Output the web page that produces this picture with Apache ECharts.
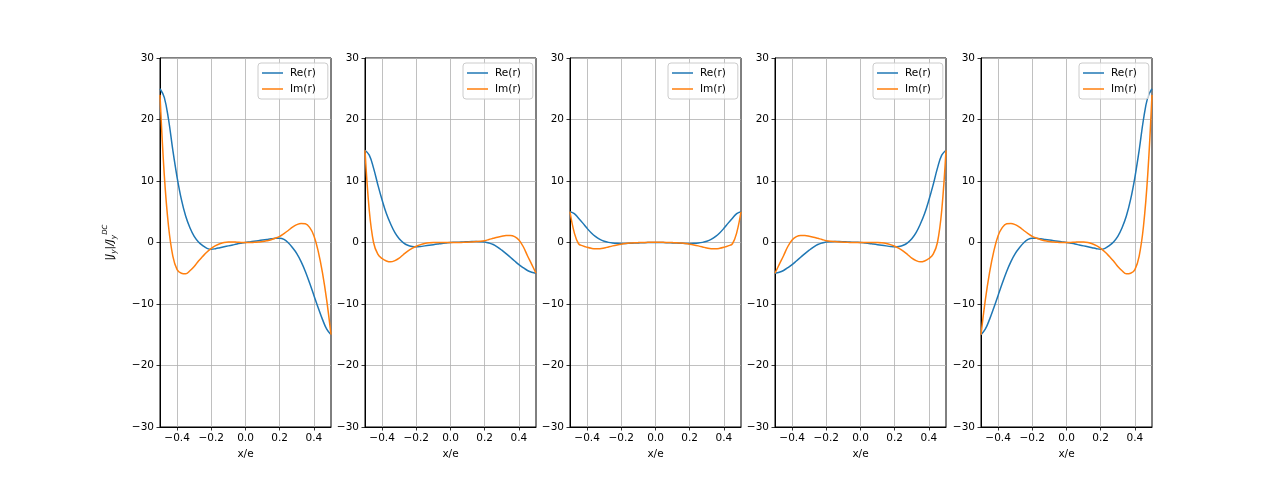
<!DOCTYPE html>
<html>
<head>
<meta charset="utf-8">
<script src="https://cdn.jsdelivr.net/npm/echarts@6/dist/echarts.min.js"></script>
<style>html,body{margin:0;padding:0;background:#fff}#c{width:1280px;height:480px}</style>
</head>
<body>
<div id="c"></div>
<script>
const xs = [-0.5,-0.475,-0.45,-0.425,-0.4,-0.375,-0.35,-0.325,-0.3,-0.275,-0.25,-0.225,-0.2,-0.175,-0.15,-0.125,-0.1,-0.075,-0.05,-0.025,0,0.025,0.05,0.075,0.1,0.125,0.15,0.175,0.2,0.225,0.25,0.275,0.3,0.325,0.35,0.375,0.4,0.425,0.45,0.475,0.5];

const re1 = [25,23.6,20.0,15.0,10.6,7.0,4.3,2.4,1.0,0.1,-0.5,-0.95,-1.1,-1.0,-0.85,-0.7,-0.55,-0.4,-0.25,-0.12,0,0.1,0.2,0.3,0.4,0.5,0.6,0.68,0.7,0.5,-0.05,-0.85,-1.8,-3.1,-4.7,-6.6,-8.6,-10.6,-12.5,-14.1,-15];
const im1 = [24,11.0,2.6,-2.2,-4.4,-5.0,-5.1,-4.6,-3.9,-3.0,-2.25,-1.55,-0.95,-0.5,-0.2,0.0,0.08,0.08,0.05,0.02,0,0.0,0.03,0.08,0.15,0.28,0.45,0.7,1.0,1.45,1.95,2.5,2.9,3.1,3.05,2.45,1.1,-1.4,-4.9,-9.4,-15];

const re2 = [15,14.2,12.1,9.4,6.9,4.7,3.0,1.6,0.6,-0.05,-0.45,-0.65,-0.7,-0.65,-0.55,-0.45,-0.35,-0.25,-0.15,-0.07,0,0.03,0.06,0.1,0.13,0.15,0.15,0.13,0.08,-0.08,-0.33,-0.75,-1.25,-1.8,-2.4,-3.0,-3.6,-4.1,-4.55,-4.85,-5.0];
const im2 = [15,5.2,0.0,-1.9,-2.6,-3.0,-3.15,-2.95,-2.55,-1.95,-1.4,-0.95,-0.6,-0.35,-0.17,-0.06,0.0,0.01,0.01,0.0,0,0.0,0.01,0.03,0.06,0.1,0.15,0.2,0.3,0.48,0.68,0.87,1.02,1.13,1.15,0.95,0.4,-0.65,-2.15,-3.55,-5.0];

const re3 = [5.0,4.7,3.95,3.15,2.3,1.55,0.95,0.5,0.2,0.02,-0.08,-0.13,-0.15,-0.15,-0.13,-0.1,-0.07,-0.04,-0.02,-0.01,0,-0.01,-0.02,-0.04,-0.07,-0.1,-0.13,-0.15,-0.15,-0.13,-0.08,0.02,0.2,0.5,0.95,1.55,2.3,3.15,3.95,4.7,5.0];
const im3 = [5.0,1.6,-0.2,-0.55,-0.78,-0.95,-1.03,-1.02,-0.9,-0.72,-0.55,-0.4,-0.27,-0.17,-0.1,-0.05,-0.02,0.0,0.02,0.03,0.03,0.03,0.02,0.0,-0.02,-0.05,-0.1,-0.17,-0.27,-0.4,-0.55,-0.72,-0.9,-1.02,-1.03,-0.95,-0.78,-0.55,-0.2,1.6,5.0];

const re4 = [-5.0,-4.85,-4.55,-4.1,-3.6,-3.0,-2.4,-1.8,-1.25,-0.75,-0.33,-0.08,0.08,0.13,0.15,0.15,0.13,0.1,0.06,0.03,0,-0.07,-0.15,-0.25,-0.35,-0.45,-0.55,-0.65,-0.7,-0.65,-0.45,-0.05,0.6,1.6,3.0,4.7,6.9,9.4,12.1,14.2,15];
const im4 = [-5.0,-3.55,-2.15,-0.65,0.4,0.95,1.15,1.13,1.02,0.87,0.68,0.48,0.3,0.2,0.15,0.1,0.06,0.03,0.01,0.0,0,0.0,0.01,0.01,0.0,-0.06,-0.17,-0.35,-0.6,-0.95,-1.4,-1.95,-2.55,-2.95,-3.15,-3.0,-2.6,-1.9,0.0,5.2,15];

const re5 = [-15,-14.1,-12.5,-10.6,-8.6,-6.6,-4.7,-3.1,-1.8,-0.85,-0.05,0.5,0.7,0.68,0.6,0.5,0.4,0.3,0.2,0.1,0,-0.12,-0.25,-0.4,-0.55,-0.7,-0.85,-1.0,-1.1,-0.95,-0.5,0.1,1.0,2.4,4.3,7.0,10.6,15.0,20.0,23.6,25];
const im5 = [-15,-9.4,-4.9,-1.4,1.1,2.45,3.05,3.1,2.9,2.5,1.95,1.45,1.0,0.7,0.45,0.28,0.15,0.08,0.03,0.0,0,0.02,0.05,0.08,0.08,0.0,-0.2,-0.5,-0.95,-1.55,-2.25,-3.0,-3.9,-4.6,-5.1,-5.0,-4.4,-2.2,2.6,11.0,24];

const xTicks = [-0.4,-0.2,0,0.2,0.4];
const seriesNames = ['Re(r)','Im(r)'];
const xName = 'x/e';

const panels = [[re1,im1],[re2,im2],[re3,im3],[re4,im4],[re5,im5]];
const lefts = [160,365,570,775,981];
const W = 171, TOP = 58, H = 369;
const colors = ['#1f77b4','#ff7f0e'];
const FONT = 'DejaVu Sans';
const minus = s => String(s).replace('-', '\u2212');

const grid = [], xAxis = [], yAxis = [], series = [], legend = [];
panels.forEach((p, i) => {
  grid.push({left: lefts[i], top: TOP, width: W, height: H, show: true, borderColor: '#000', borderWidth: 1, backgroundColor: 'transparent'});
  xAxis.push({
    type: 'value', gridIndex: i, min: -0.5, max: 0.5,
    name: xName, nameLocation: 'middle', nameGap: 22,
    nameTextStyle: {color: '#000', fontSize: 10.5, fontFamily: FONT},
    axisLine: {show: true, onZero: false, lineStyle: {color: '#000', width: 1}},
    axisTick: {show: true, customValues: xTicks, length: 3.5, lineStyle: {color: '#000', width: 0.8}},
    axisLabel: {customValues: xTicks, color: '#000', fontSize: 10.5, fontFamily: FONT, margin: 6,
      formatter: v => minus(Number(v).toFixed(1))},
    splitLine: {show: true, lineStyle: {color: '#b0b0b0', width: 0.8}}
  });
  const ya = {
    type: 'value', gridIndex: i, min: -30, max: 30, interval: 10,
    axisLine: {show: true, onZero: false, lineStyle: {color: '#000', width: 1}},
    axisTick: {show: true, length: 3.5, lineStyle: {color: '#000', width: 0.8}},
    axisLabel: {color: '#000', fontSize: 10.5, fontFamily: FONT, margin: 6, formatter: v => minus(v)},
    splitLine: {show: true, lineStyle: {color: '#b0b0b0', width: 0.8}}
  };
  if (i === 0) {
    ya.name = '{b||J}{s|y}{b||/J}{s|y}{p|DC}';
    ya.nameLocation = 'middle';
    ya.nameGap = 42;
    ya.nameRotate = 90;
    ya.nameTextStyle = {color: '#000', fontFamily: FONT, rich: {
      b: {fontSize: 10.5, fontStyle: 'italic', color: '#000', fontFamily: FONT, lineHeight: 16, verticalAlign: 'middle'},
      s: {fontSize: 7.5, fontStyle: 'italic', color: '#000', fontFamily: FONT, lineHeight: 16, verticalAlign: 'bottom'},
      p: {fontSize: 7, fontStyle: 'italic', color: '#000', fontFamily: FONT, lineHeight: 16, verticalAlign: 'top'}
    }};
  }
  yAxis.push(ya);
  p.forEach((vals, k) => {
    series.push({
      type: 'line', name: seriesNames[k], xAxisIndex: i, yAxisIndex: i,
      data: xs.map((x, j) => [x, vals[j]]),
      showSymbol: false, symbol: 'none', smooth: 0.4, clip: true,
      lineStyle: {color: colors[k], width: 1.5}, itemStyle: {color: colors[k]},
      z: 3
    });
  });
  legend.push({
    data: seriesNames, orient: 'vertical', icon: 'rect', align: 'left',
    left: lefts[i] + W - 73, top: TOP + 5,
    backgroundColor: 'rgba(255,255,255,0.8)', borderColor: '#cccccc', borderWidth: 1, borderRadius: 3,
    padding: [4, 12, 4, 4], itemGap: 4, itemWidth: 21, itemHeight: 1.5,
    textStyle: {color: '#000', fontSize: 10.5, fontFamily: FONT, padding: [0,0,0,2], lineHeight: 12},
    selectedMode: false
  });
});

const chart = echarts.init(document.getElementById('c'), null, {renderer: 'canvas'});
chart.setOption({
  backgroundColor: '#fff',
  animation: false,
  textStyle: {fontFamily: FONT},
  grid, xAxis, yAxis, series, legend
});
</script>
</body>
</html>
